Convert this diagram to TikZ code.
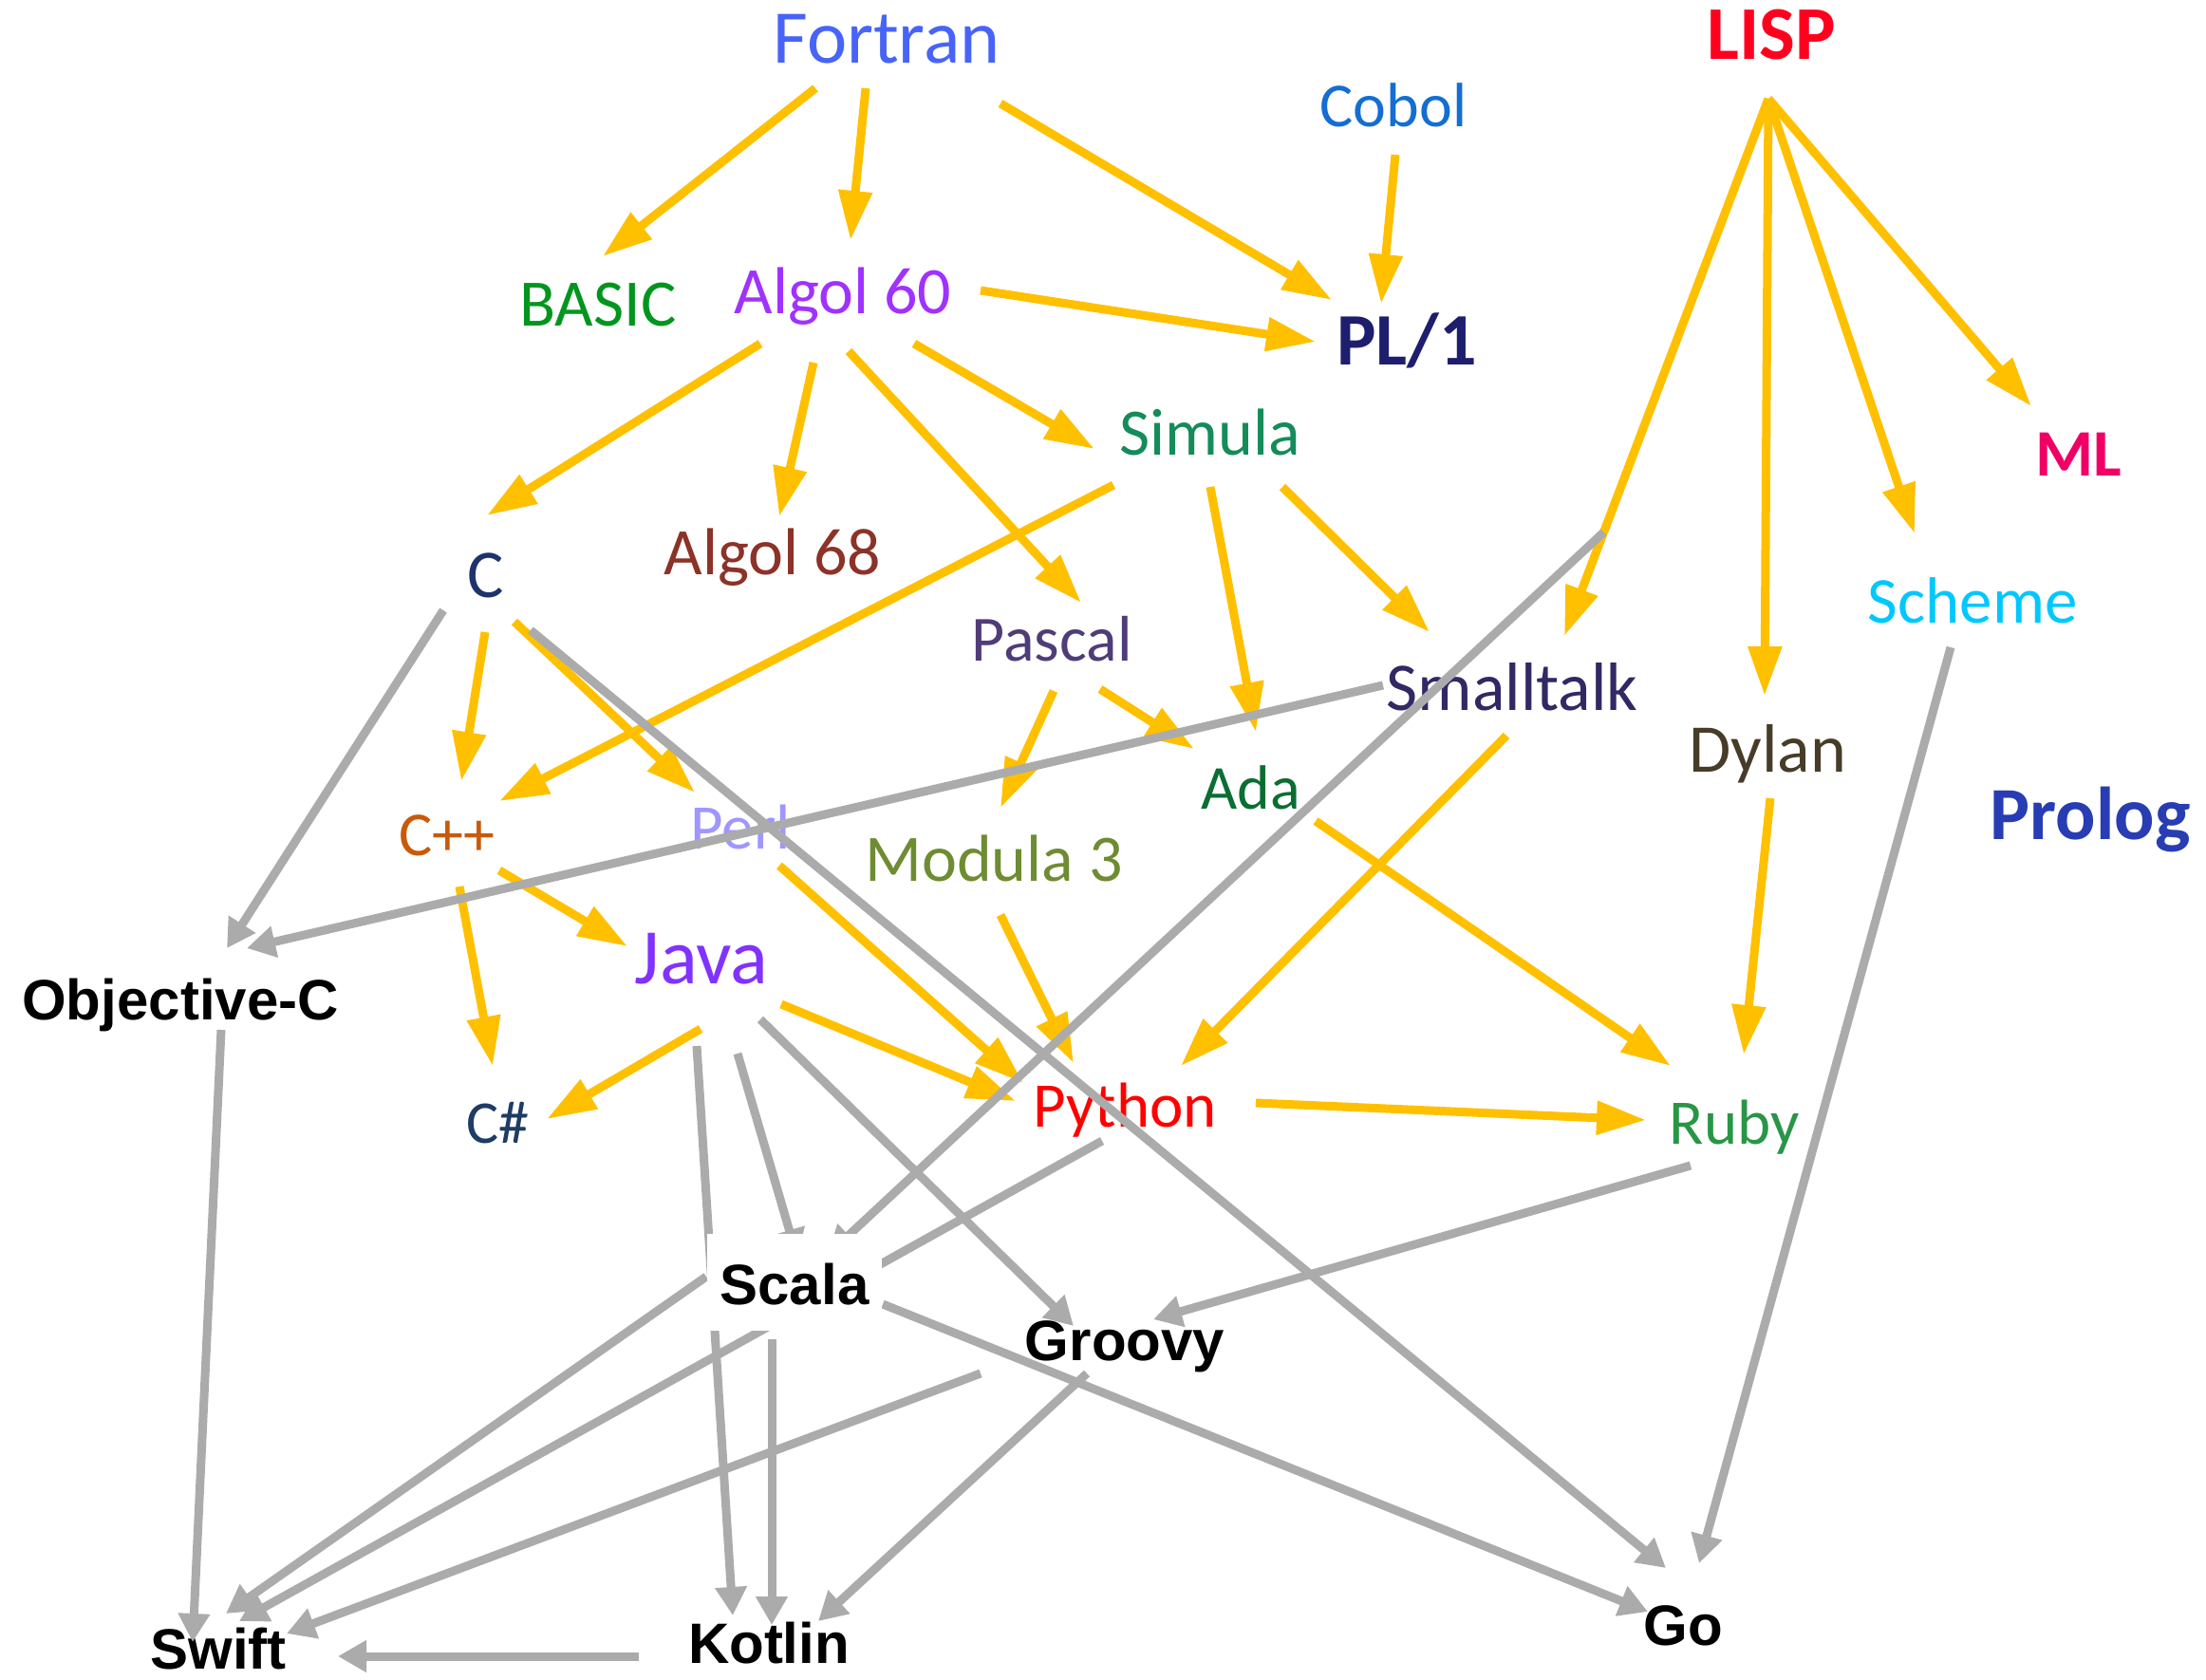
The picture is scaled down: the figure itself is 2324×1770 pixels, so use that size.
\documentclass[tikz,border=0pt]{standalone}
\usepackage{fontspec}
\newfontfamily\calibrifont{Carlito}
\newfontfamily\arialfont{Liberation Sans}
\usetikzlibrary{arrows.meta}
\pgfdeclarelayer{fg}
\pgfsetlayers{main,fg}
\definecolor{yel}{RGB}{255,192,0}
\definecolor{gry}{RGB}{171,171,171}
\definecolor{cfortran}{RGB}{72,100,248}
\definecolor{clisp}{RGB}{255,0,30}
\definecolor{ccobol}{RGB}{20,110,210}
\definecolor{cbasic}{RGB}{0,150,30}
\definecolor{calgol}{RGB}{160,50,255}
\definecolor{cpl}{RGB}{30,30,110}
\definecolor{csimula}{RGB}{20,140,90}
\definecolor{cml}{RGB}{240,0,100}
\definecolor{cc}{RGB}{30,50,110}
\definecolor{calgolb}{RGB}{140,50,40}
\definecolor{cpascal}{RGB}{80,60,120}
\definecolor{cscheme}{RGB}{0,200,255}
\definecolor{csmalltalk}{RGB}{50,40,100}
\definecolor{cdylan}{RGB}{70,60,40}
\definecolor{cprolog}{RGB}{40,60,180}
\definecolor{cada}{RGB}{10,110,50}
\definecolor{ccpp}{RGB}{200,90,10}
\definecolor{cperl}{RGB}{160,150,255}
\definecolor{cmodula}{RGB}{110,140,50}
\definecolor{cjava}{RGB}{130,50,255}
\definecolor{ccsharp}{RGB}{30,60,100}
\definecolor{cpython}{RGB}{255,0,0}
\definecolor{cruby}{RGB}{40,150,70}
\newcommand{\langedge}[7]{\draw[#1] ([shift={(#3,#4)}]#2.base) -- ([shift={(#6,#7)}]#5.base);}
\begin{document}
\begin{tikzpicture}[x=0.5pt,y=-0.5pt,
  lbl/.style={inner sep=0pt,anchor=base},
  cal/.style={lbl,font={\calibrifont\fontsize{#1}{#1}\selectfont}},
  calb/.style={lbl,font={\calibrifont\bfseries\fontsize{#1}{#1}\selectfont}},
  blk/.style={lbl,text=black,font={\arialfont\bfseries\fontsize{30}{30}\selectfont}},
  ya/.style={draw=yel,line width=4.5pt,-{Triangle[length=26pt,width=17pt]}},
  ga/.style={draw=gry,line width=4.5pt,-{Triangle[length=15pt,width=16pt]}}]
\useasboundingbox (0,0) rectangle (2324,1770);
% nodes
\node[cal=40,text=cfortran] (fortran) at (934,67) {Fortran};
\node[calb=40,text=clisp] (lisp) at (1866,63) {LISP};
\node[cal=33,text=ccobol] (cobol) at (1468,134) {Cobol};
\node[cal=35,text=cbasic] (basic) at (630,344) {BASIC};
\node[cal=35,text=calgol] (algolsixty) at (888,331) {Algol 60};
\node[calb=39,text=cpl] (plone) at (1482,385) {PL/1};
\node[cal=35,text=csimula] (simula) at (1275,480) {Simula};
\node[calb=35,text=cml] (ml) at (2190,502) {ML};
\node[cal=36,text=cc] (c) at (512,630) {C};
\node[cal=35,text=calgolb] (algolsixtyeight) at (814,606) {Algol 68};
\node[cal=34,text=cpascal] (pascal) at (1108,697) {Pascal};
\node[cal=34.5,text=cscheme] (scheme) at (2078,656) {Scheme};
\node[cal=36,text=csmalltalk] (smalltalk) at (1593,748) {Smalltalk};
\node[cal=36,text=cdylan] (dylan) at (1862,813) {Dylan};
\node[calb=39.5,text=cprolog] (prolog) at (2202,884) {Prolog};
\node[cal=33,text=cada] (ada) at (1318,852) {Ada};
\node[cal=33,text=ccpp] (cpp) at (471,901) {C++};
\node[cal=33.5,text=cperl] (perl) at (780,894) {Perl};
\node[cal=35,text=cmodula] (modula) at (1047,928) {Modula 3};
\node[cal=41.5,text=cjava] (java) at (739,1036) {Java};
\node[blk] (objc) at (190,1074) {Objective-C};
\node[cal=32,text=ccsharp] (csharp) at (524,1204) {C\#};
\node[cal=33.5,text=cpython] (python) at (1185,1187) {Python};
\node[cal=33.5,text=cruby] (ruby) at (1827,1205) {Ruby};
\begin{pgfonlayer}{fg}
\node[blk,fill=white,inner xsep=7pt,inner ysep=14pt,text height=23pt,text depth=0pt] (scala) at (837,1374) {Scala};
\end{pgfonlayer}
\node[blk] (groovy) at (1185,1433) {Groovy};
\node[blk] (swift) at (230,1758) {Swift};
\node[blk] (kotlin) at (810,1752) {Kotlin};
\node[blk] (go) at (1773,1733) {Go};
% yellow connectors
\langedge{ya}{fortran}{-75}{26}{basic}{5}{-74}
\langedge{ya}{fortran}{-22}{26}{algolsixty}{8}{-78}
\langedge{ya}{fortran}{120}{42}{plone}{-79}{-69}
\langedge{ya}{cobol}{2}{29}{plone}{-27}{-65}
\langedge{ya}{algolsixty}{145}{-25}{plone}{-96}{-25}
\langedge{ya}{algolsixty}{-87}{31}{c}{1}{-87}
\langedge{ya}{algolsixty}{-31}{51}{algolsixtyeight}{7}{-62}
\langedge{ya}{algolsixty}{6}{39}{pascal}{31}{-62}
\langedge{ya}{algolsixty}{75}{31}{simula}{-122}{-7}
\langedge{ya}{lisp}{-3}{41}{smalltalk}{55}{-78}
\langedge{ya}{lisp}{-3}{41}{dylan}{-3}{-80}
\langedge{ya}{lisp}{-3}{41}{scheme}{-61}{-94}
\langedge{ya}{lisp}{-3}{41}{ml}{-50}{-74}
\langedge{ya}{simula}{-102}{31}{cpp}{55}{-57}
\langedge{ya}{simula}{0}{33}{ada}{5}{-81}
\langedge{ya}{simula}{76}{33}{smalltalk}{-87}{-82}
\langedge{ya}{c}{-1}{36}{cpp}{15}{-78}
\langedge{ya}{c}{30}{25}{perl}{-48}{-59}
\langedge{ya}{pascal}{2}{31}{modula}{7}{-77}
\langedge{ya}{pascal}{51}{29}{ada}{-60}{-63}
\langedge{ya}{cpp}{55}{16}{java}{-78}{-39}
\langedge{ya}{cpp}{13}{33}{csharp}{-5}{-81}
\langedge{ya}{perl}{41}{18}{python}{-107}{-46}
\langedge{ya}{modula}{7}{36}{python}{-54}{-67}
\langedge{ya}{smalltalk}{-6}{27}{python}{59}{-64}
\langedge{ya}{java}{-1}{48}{csharp}{52}{-25}
\langedge{ya}{java}{84}{22}{python}{-115}{-27}
\langedge{ya}{ada}{68}{13}{ruby}{-67}{-82}
\langedge{ya}{dylan}{3}{28}{ruby}{10}{-94}
\langedge{ya}{python}{138}{-25}{ruby}{-93}{-25}
% point on the LISP -> Smalltalk connector
\path ([shift={(-3,41)}]lisp.base) -- ([shift={(55,-78)}]smalltalk.base) coordinate[pos=0.807] (lispmid);
% gray connectors
\langedge{ga}{c}{-45}{13}{objc}{49}{-75}
\langedge{ga}{smalltalk}{-136}{-26}{objc}{70}{-75}
\langedge{ga}{c}{47}{34}{go}{-18}{-81}
\langedge{ga}{objc}{43}{11}{swift}{-27}{-28}
\langedge{ga}{java}{38}{74}{scala}{3}{-49}
\draw[ga] (lispmid) -- ([shift={(35,-52)}]scala.base);
\langedge{ga}{java}{-5}{66}{kotlin}{-38}{-50}
\langedge{ga}{java}{62}{38}{groovy}{-54}{-36}
\langedge{ga}{python}{-24}{15}{swift}{22}{-50}
\langedge{ga}{ruby}{-46}{23}{groovy}{30}{-43}
\langedge{ga}{scheme}{-23}{26}{go}{17}{-86}
\langedge{ga}{scala}{-93}{-29}{swift}{8}{-58}
\langedge{ga}{scala}{-24}{37}{kotlin}{3}{-40}
\langedge{ga}{scala}{93}{0}{go}{-37}{-35}
\langedge{ga}{groovy}{-152}{14}{swift}{72}{-37}
\langedge{ga}{groovy}{-40}{14}{kotlin}{52}{-44}
\langedge{ga}{kotlin}{-137}{-7}{swift}{126}{-13}
\end{tikzpicture}
\end{document}
